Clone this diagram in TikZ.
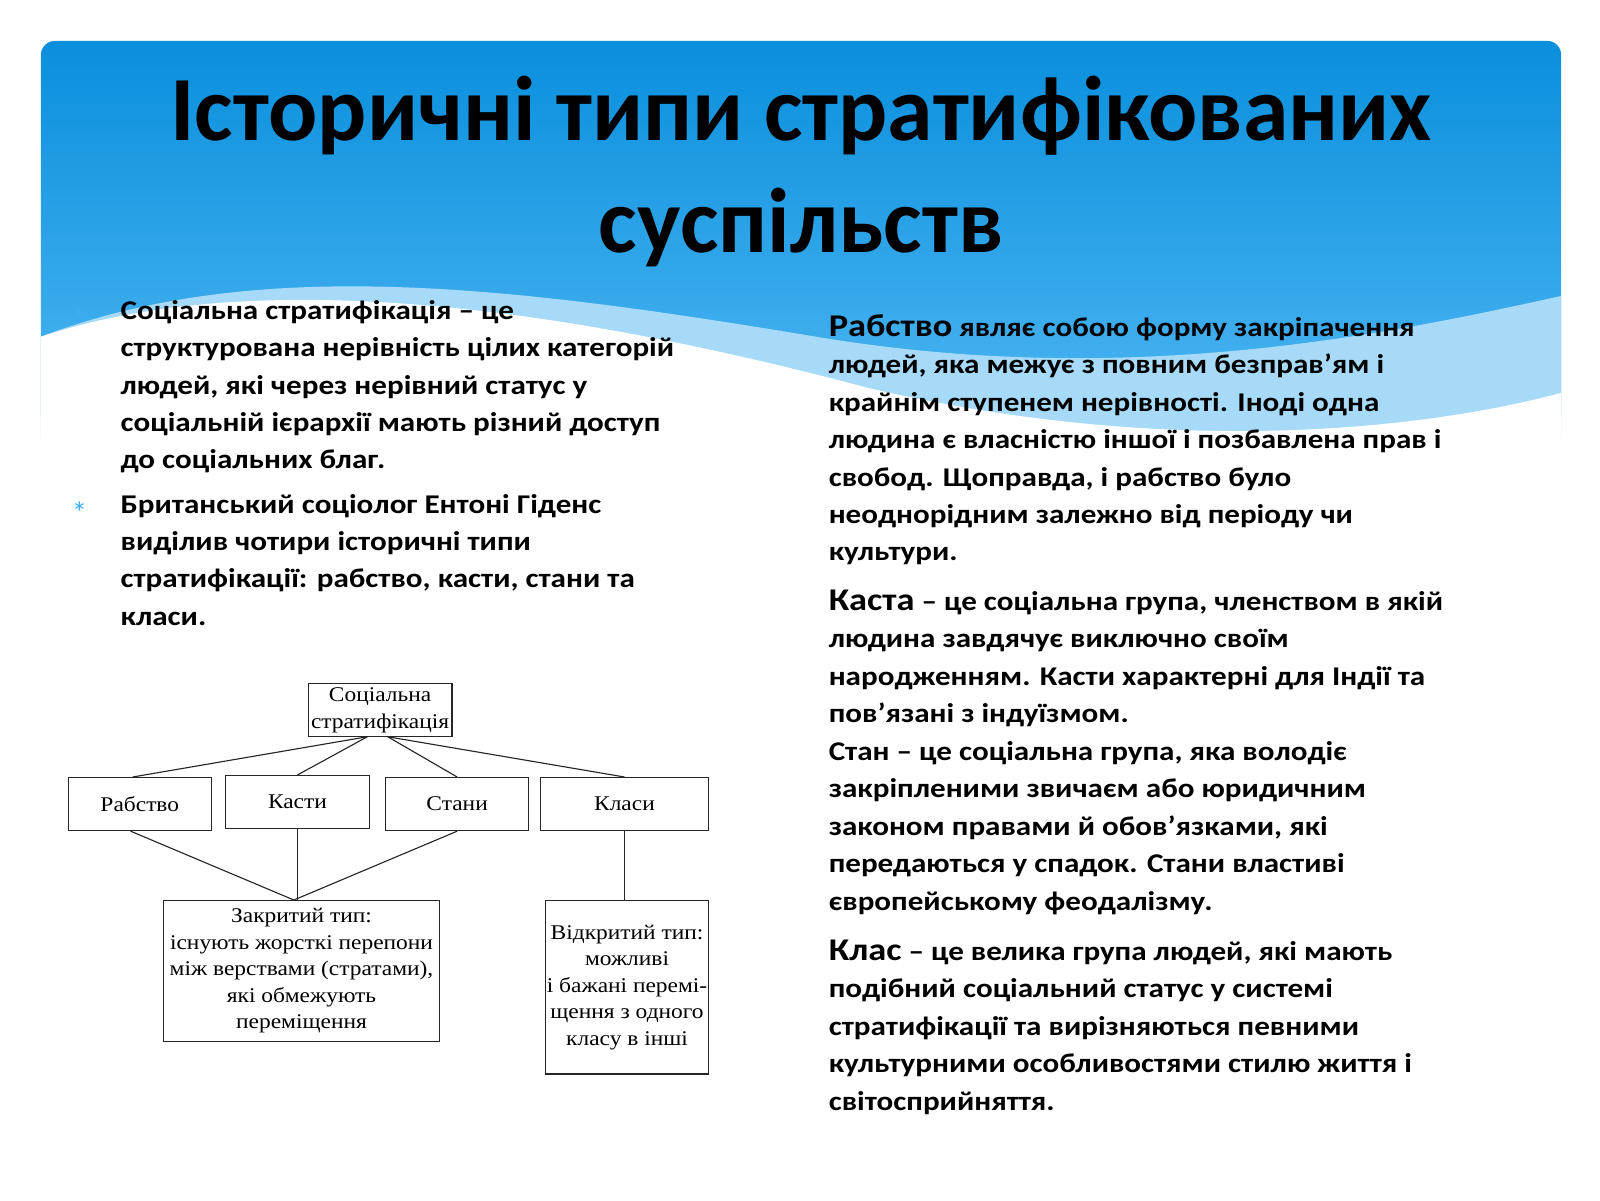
\documentclass[tikz,border=0pt]{standalone}
\usepackage{fontspec}
\setmainfont{Carlito}[FakeStretch=1.15]
\newfontfamily\titlefont{Carlito}
\newfontfamily\dserif{Liberation Serif}[FakeStretch=1.12]
\definecolor{topblue}{HTML}{0A8FDD}
\definecolor{midblue}{HTML}{4DB6F2}
\definecolor{lightblue}{HTML}{A6DAF8}
\definecolor{bulletc}{HTML}{3AB0F0}
\tikzset{
  dbox/.style={draw=black!85, line width=1.1pt, font=\dserif\fontsize{20.5}{26}\selectfont, align=center, inner sep=1pt},
  dline/.style={draw=black!85, line width=1.1pt},
  body/.style={anchor=north west, align=left, font=\bfseries\fontsize{26.5}{36.7}\selectfont, inner sep=0pt},
  bul/.style={text=bulletc, font=\titlefont\fontsize{30}{30}\selectfont}
}
\begin{document}
\begin{tikzpicture}[x=1pt,y=-1pt]
\useasboundingbox (0,0) rectangle (1568,1176);
\fill[white] (0,0) rectangle (1568,1176);
% banner
\shade[top color=topblue, bottom color=midblue, rounded corners=14pt]
  (40,420) -- (40,40) -- (1530,40) -- (1530,420) -- cycle;
\fill[lightblue] (40,330) .. controls (250,250) and (500,280) .. (800,330)
  .. controls (1100,380) and (1350,330) .. (1530,290) -- (1530,430) -- (40,430) -- cycle;
\fill[white] (40,330) .. controls (250,260) and (550,300) .. (850,380)
  .. controls (1150,450) and (1400,420) .. (1530,385) -- (1530,440) -- (40,440) -- cycle;
\fill[white] (30,430) rectangle (1540,1176);
% title
\node[font=\titlefont\bfseries\fontsize{90}{110}\selectfont, align=center] (title) at (785,168)
  {Історичні типи стратифікованих\\суспільств};
% left text
\node[bul] (b1) at (78,312) {*};
\node[bul] (b2) at (78,502) {*};
\node[body] (t1) at (118,294) {Соціальна стратифікація – це\\структурована нерівність цілих категорій\\людей, які через нерівний статус у\\соціальній ієрархії мають різний доступ\\до соціальних благ.};
\node[body] (t2) at (118,484) {Британський соціолог Ентоні Гіденс\\виділив чотири історичні типи\\стратифікації: рабство, касти, стани та\\класи.};
% right text
\node[body] (r1) at (812,308) {{\fontsize{31}{36}\selectfont Рабство} являє собою форму закріпачення\\людей, яка межує з повним безправ’ям і\\крайнім ступенем нерівності. Іноді одна\\людина є власністю іншої і позбавлена прав і\\свобод. Щоправда, і рабство було\\неоднорідним залежно від періоду чи\\культури.};
\node[body] (r2) at (812,578) {{\fontsize{31}{36}\selectfont Каста} – це соціальна група, членством в якій\\людина завдячує виключно своїм\\народженням. Касти характерні для Індії та\\пов’язані з індуїзмом.\\Стан – це соціальна група, яка володіє\\закріпленими звичаєм або юридичним\\законом правами й обов’язками, які\\передаються у спадок. Стани властиві\\європейському феодалізму.};
\node[body] (r3) at (812,921) {{\fontsize{31}{36}\selectfont Клас} – це велика група людей, які мають\\подібний соціальний статус у системі\\стратифікації та вирізняються певними\\культурними особливостями стилю життя і\\світосприйняття.};
% diagram
\node[dbox, minimum width=141pt, minimum height=52pt, inner sep=0pt] (soc) at (372.5,696) {Соціальна\\стратифікація};
\node[dbox, minimum width=140pt, minimum height=52pt] (rab) at (137,788) {Рабство};
\node[dbox, minimum width=141pt, minimum height=52pt] (kas) at (291.5,786) {Касти};
\node[dbox, minimum width=140pt, minimum height=52pt] (sta) at (448,788) {Стани};
\node[dbox, minimum width=164pt, minimum height=52pt] (kla) at (612,788) {Класи};
\node[dbox, minimum width=271pt, minimum height=138pt, anchor=north] (clo) at (295.5,882) {Закритий тип:\\існують жорсткі перепони\\між верствами (стратами),\\які обмежують\\переміщення};
\node[dbox, minimum width=159pt, minimum height=170pt, anchor=north, inner sep=0pt] (ope) at (614.5,882) {Відкритий тип:\\можливі\\і бажані пере­мі-\\щення з одного\\класу в інші};
\coordinate (sl) at (360,722);
\coordinate (sr) at (380,722);
\coordinate (cj) at (288,882);
\draw[dline] (sl) -- (rab.north -| 130,0);
\draw[dline] (sl) -- (kas.north);
\draw[dline] (sr) -- (sta.north);
\draw[dline] (sr) -- (kla.north);
\draw[dline] (rab.south -| 128,0) -- (cj);
\draw[dline] (kas.south) -- (kas.south |- cj);
\draw[dline] (sta.south) -- (cj);
\draw[dline] (kla.south) -- (kla.south |- ope.north);
\end{tikzpicture}
\end{document}
